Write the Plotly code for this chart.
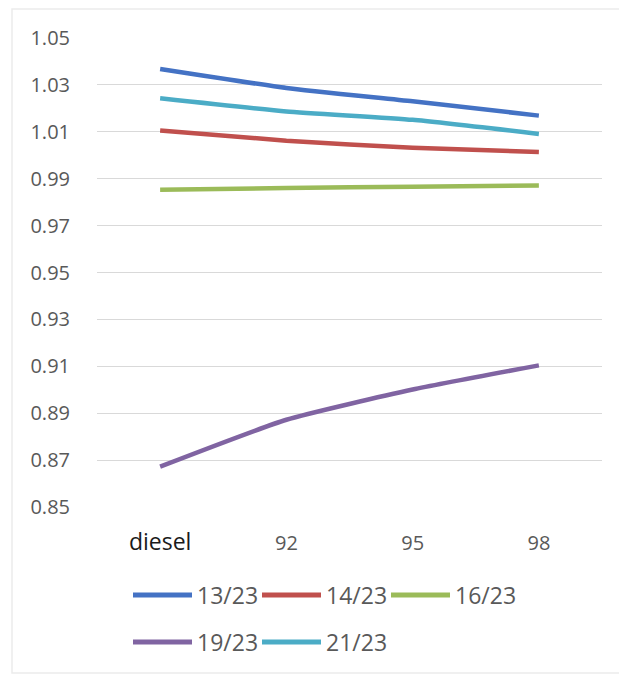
import plotly.graph_objects as go

# Fuel grades on the category axis
categories = ["diesel", "92", "95", "98"]

# One series per date
series_names = ["13/23", "14/23", "16/23", "19/23", "21/23"]
s_13_23 = [1.0368, 1.0287, 1.0230, 1.0169]
s_14_23 = [1.0106, 1.0062, 1.0032, 1.0014]
s_16_23 = [0.9853, 0.9860, 0.9866, 0.9871]
s_19_23 = [0.8672, 0.8872, 0.9001, 0.9104]
s_21_23 = [1.0243, 1.0187, 1.0151, 1.0091]
series_values = [s_13_23, s_14_23, s_16_23, s_19_23, s_21_23]

y_ticks = [0.85, 0.87, 0.89, 0.91, 0.93, 0.95, 0.97, 0.99, 1.01, 1.03, 1.05]

colors = ["#4472C4", "#C0504D", "#9BBB59", "#8064A2", "#4BACC6"]

W, H = 619, 677
L, R, T, B = 97, 17, 38, 170
PW, PH = W - L - R, H - T - B


def px_x(x):
    return (x - L) / PW


def px_y(y):
    return (H - B - y) / PH


fig = go.Figure()
xs = list(range(len(categories)))
for name, vals, col in zip(series_names, series_values, colors):
    fig.add_trace(go.Scatter(
        x=xs, y=vals, name=name, mode="lines",
        line=dict(color=col, width=4.5, shape="spline", smoothing=0.5),
        showlegend=False,
    ))

tick_font = dict(family="Open Sans, Liberation Sans, sans-serif", size=20, color="#595959")
legend_font = dict(family="Open Sans, Liberation Sans, sans-serif", size=23, color="#595959")

ticktext = ['<span style="color:#1a1a1a;font-size:23px">diesel</span>'] + categories[1:]

fig.update_xaxes(
    range=[-0.5, len(categories) - 0.5],
    tickvals=xs, ticktext=ticktext,
    showgrid=False, zeroline=False, showline=False,
    ticks="outside", ticklen=18, tickcolor="rgba(0,0,0,0)",
    tickfont=tick_font, fixedrange=True,
)
fig.update_yaxes(
    range=[0.85, 1.05],
    tickvals=y_ticks, ticktext=[f"{v:.2f}" for v in y_ticks],
    showgrid=True, gridcolor="#d9d9d9", gridwidth=1.3,
    zeroline=False, showline=False,
    ticks="outside", ticklen=22, tickcolor="rgba(0,0,0,0)",
    tickfont=tick_font, fixedrange=True,
)

# Legend drawn as line swatches with labels, two rows below the plot
shapes = [dict(type="rect", xref="paper", yref="paper",
               x0=px_x(12), x1=px_x(630), y0=px_y(673), y1=px_y(9),
               line=dict(color="#ebebeb", width=1.5), layer="below")]
annotations = []
legend_slots = [(133, 595), (262, 595), (391, 595), (133, 642), (262, 642)]
for name, col, (lx, ly) in zip(series_names, colors, legend_slots):
    shapes.append(dict(type="line", xref="paper", yref="paper",
                       x0=px_x(lx), x1=px_x(lx + 59), y0=px_y(ly), y1=px_y(ly),
                       line=dict(color=col, width=5)))
    annotations.append(dict(xref="paper", yref="paper", x=px_x(lx + 62), y=px_y(ly),
                            text=name, showarrow=False, xanchor="left", yanchor="middle",
                            font=legend_font))

fig.update_layout(
    width=W, height=H,
    margin=dict(l=L, r=R, t=T, b=B),
    paper_bgcolor="white", plot_bgcolor="white",
    shapes=shapes, annotations=annotations,
    showlegend=False,
)

fig.write_html("out.html")
